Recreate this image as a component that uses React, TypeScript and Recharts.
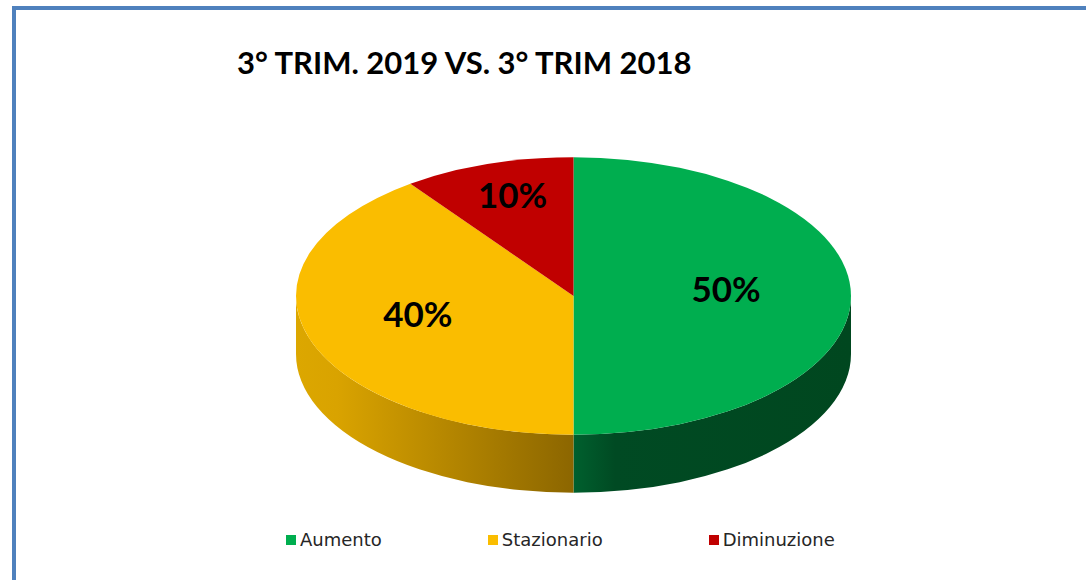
import React from 'react';
import { PieChart, Pie, Cell, Legend } from 'recharts';

const categories = ['Aumento', 'Stazionario', 'Diminuzione'];
const values = [50, 40, 10];
const titleText = '3° TRIM. 2019 VS. 3° TRIM 2018';

const topColors = ['#00ae4f', '#fabd00', '#c00000'];
const sideGradients = [
  [
    { o: 0, c: '#00602e' },
    { o: 0.15, c: '#004a23' },
    { o: 1, c: '#00471f' },
  ],
  [
    { o: 0, c: '#dca700' },
    { o: 0.15, c: '#d9a300' },
    { o: 1, c: '#8c6600' },
  ],
  [
    { o: 0, c: '#8a0000' },
    { o: 1, c: '#6a0000' },
  ],
];

const TILT = 0.5;
const DEPTH = 58;
const RAD = Math.PI / 180;

const data = categories.map((name, i) => ({ name, value: values[i] }));

const pt = (cx: number, cy: number, rx: number, ry: number, a: number, dy = 0) => ({
  x: cx + rx * Math.cos(a * RAD),
  y: cy - ry * Math.sin(a * RAD) + dy,
});

const EllipseSector = (props: any) => {
  const { cx, cy, outerRadius, startAngle, endAngle, payload, name } = props;
  const nm = (payload && payload.name) || name;
  const idx = Math.max(0, categories.indexOf(nm));
  const rx = outerRadius;
  const ry = outerRadius * TILT;
  const a1 = Math.min(startAngle, endAngle);
  const a2 = Math.max(startAngle, endAngle);
  const span = a2 - a1;
  const ps = pt(cx, cy, rx, ry, a2);
  const pe = pt(cx, cy, rx, ry, a1);
  const large = span > 180 ? 1 : 0;
  const top = `M${cx},${cy} L${ps.x},${ps.y} A${rx},${ry} 0 ${large} 1 ${pe.x},${pe.y} Z`;

  const sides: string[] = [];
  for (let k = -2; k <= 1; k++) {
    const lo = Math.max(a1, -180 + 360 * k);
    const hi = Math.min(a2, 360 * k);
    if (hi - lo > 0.01) {
      const h = pt(cx, cy, rx, ry, hi);
      const l = pt(cx, cy, rx, ry, lo);
      const lg = hi - lo > 180 ? 1 : 0;
      sides.push(
        `M${h.x},${h.y} A${rx},${ry} 0 ${lg} 1 ${l.x},${l.y} L${l.x},${l.y + DEPTH} A${rx},${ry} 0 ${lg} 0 ${h.x},${h.y + DEPTH} Z`
      );
    }
  }
  const gid = `side-grad-${idx}`;
  return (
    <g>
      <defs>
        <linearGradient id={gid} x1="0" y1="0" x2="1" y2="0">
          {sideGradients[idx].map((s, j) => (
            <stop key={j} offset={s.o} stopColor={s.c} />
          ))}
        </linearGradient>
      </defs>
      {sides.map((d, j) => (
        <path key={j} d={d} fill={`url(#${gid})`} stroke="none" />
      ))}
      <path d={top} fill={topColors[idx]} stroke="none" />
    </g>
  );
};

const renderLabel = (props: any) => {
  const { cx, cy, midAngle, outerRadius, percent } = props;
  const f = 0.75 - 0.4 * percent;
  const x = cx + f * outerRadius * Math.cos(midAngle * RAD);
  const y = cy - f * outerRadius * TILT * Math.sin(midAngle * RAD) - 8;
  return (
    <text
      x={x}
      y={y}
      textAnchor="middle"
      dominantBaseline="central"
      fill="#000"
      style={{ fontFamily: 'Lato, sans-serif', fontWeight: 700, fontSize: 35 }}
    >
      {`${Math.round(percent * 100)}%`}
    </text>
  );
};

const renderLegend = () => {
  return (
    <div style={{ display: 'flex', alignItems: 'center', gap: 106 }}>
      {categories.map((c, i) => (
        <div key={c} style={{ display: 'flex', alignItems: 'center' }}>
          <span
            style={{
              display: 'inline-block',
              width: 10,
              height: 10,
              background: topColors[i],
              marginRight: 4,
            }}
          />
          <span
            style={{
              fontFamily: '"DejaVu Sans", sans-serif',
              fontSize: 18,
              color: '#262626',
              lineHeight: '20px',
            }}
          >
            {c}
          </span>
        </div>
      ))}
    </div>
  );
};

export default function App() {
  return (
    <div style={{ position: 'fixed', left: 0, top: 0, width: 1086, height: 580, background: '#fff', overflow: 'hidden' }}>
      <div
        style={{
          position: 'absolute',
          left: 12,
          top: 6,
          width: 1200,
          height: 700,
          border: '4px solid #4f81bd',
          boxSizing: 'border-box',
        }}
      />
      <div
        style={{
          position: 'absolute',
          left: 237,
          top: 44,
          fontFamily: 'Lato, sans-serif',
          fontWeight: 700,
          fontSize: 31,
          color: '#000',
          whiteSpace: 'nowrap',
          lineHeight: '36px',
        }}
      >
        {titleText}
      </div>
      <div style={{ position: 'absolute', left: 0, top: 0 }}>
        <PieChart width={1086} height={580} margin={{ top: 0, right: 0, bottom: 0, left: 0 }}>
          <Pie
            data={data}
            dataKey="value"
            nameKey="name"
            cx={573.5}
            cy={296}
            outerRadius={277.5}
            startAngle={90}
            endAngle={-270}
            isAnimationActive={false}
            shape={EllipseSector}
            activeShape={EllipseSector}
            inactiveShape={EllipseSector}
            label={renderLabel}
            labelLine={false}
            stroke="none"
          >
            {data.map((d, i) => (
              <Cell key={d.name} fill={topColors[i]} />
            ))}
          </Pie>
          <Legend
            content={renderLegend}
            wrapperStyle={{ position: 'absolute', left: 286, top: 530, width: 'auto' }}
          />
        </PieChart>
      </div>
    </div>
  );
}
